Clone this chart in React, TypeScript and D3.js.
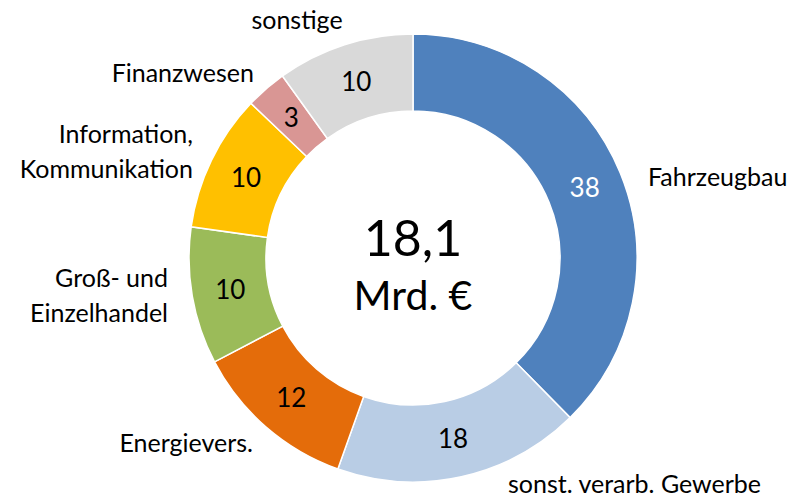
import React from "react";
import * as d3 from "d3";

const categories = [
  "Fahrzeugbau",
  "sonst. verarb. Gewerbe",
  "Energievers.",
  "Groß- und Einzelhandel",
  "Information, Kommunikation",
  "Finanzwesen",
  "sonstige",
];
const values = [38, 18, 12, 10, 10, 3, 10];
const colors = ["#4F81BD", "#B9CDE5", "#E46C0A", "#9BBB59", "#FFC000", "#D99694", "#D9D9D9"];
const valueColors = ["#ffffff", "#000000", "#000000", "#000000", "#000000", "#000000", "#000000"];
const labelLines = [
  ["Fahrzeugbau"],
  ["sonst. verarb. Gewerbe"],
  ["Energievers."],
  ["Groß- und", "Einzelhandel"],
  ["Information,", "Kommunikation"],
  ["Finanzwesen"],
  ["sonstige"],
];
// label anchor: x, first-line baseline y, alignment
const labelPos: [number, number, string][] = [
  [648, 186, "start"],
  [508, 493, "start"],
  [253, 452, "end"],
  [168, 287, "end"],
  [193, 143, "end"],
  [254, 82, "end"],
  [297, 29, "middle"],
];
const centerLines = ["18,1", "Mrd. €"];

const W = 795, H = 497;
const cx = 413, cy = 258, rOuter = 224, rInner = 147;
const FONT = "Lato, 'Open Sans', sans-serif";

export default function App() {
  const pie = d3.pie<number>().sort(null).value((d) => d);
  const arcs = pie(values);
  const arc = d3.arc<d3.PieArcDatum<number>>().innerRadius(rInner).outerRadius(rOuter);
  const mid = d3.arc<d3.PieArcDatum<number>>().innerRadius((rInner + rOuter) / 2).outerRadius((rInner + rOuter) / 2);
  const lh = 35;
  return (
    <svg width={W} height={H} style={{ position: "absolute", left: 0, top: 0 }} fontFamily={FONT}>
      <rect width={W} height={H} fill="#fff" />
      <g transform={`translate(${cx},${cy})`}>
        {arcs.map((a, i) => (
          <path key={i} d={arc(a) || ""} fill={colors[i]} stroke="#fff" strokeWidth={1.5} />
        ))}
        {arcs.map((a, i) => {
          const [x, y] = mid.centroid(a);
          return (
            <text key={i} x={x} y={y} dy="0.36em" textAnchor="middle" fontSize={26} fill={valueColors[i]}>
              {values[i]}
            </text>
          );
        })}
        <text x={0} y={-20} dy="0.36em" textAnchor="middle" fontSize={50}>{centerLines[0]}</text>
        <text x={0} y={37} dy="0.36em" textAnchor="middle" fontSize={41}>{centerLines[1]}</text>
      </g>
      {labelLines.map((lines, i) => {
        const [x, y, anchor] = labelPos[i];
        return (
          <text key={i} textAnchor={anchor} fontSize={25} fill="#000">
            {lines.map((l, j) => (
              <tspan key={j} x={x} y={y + j * lh}>{l}</tspan>
            ))}
          </text>
        );
      })}
    </svg>
  );
}
